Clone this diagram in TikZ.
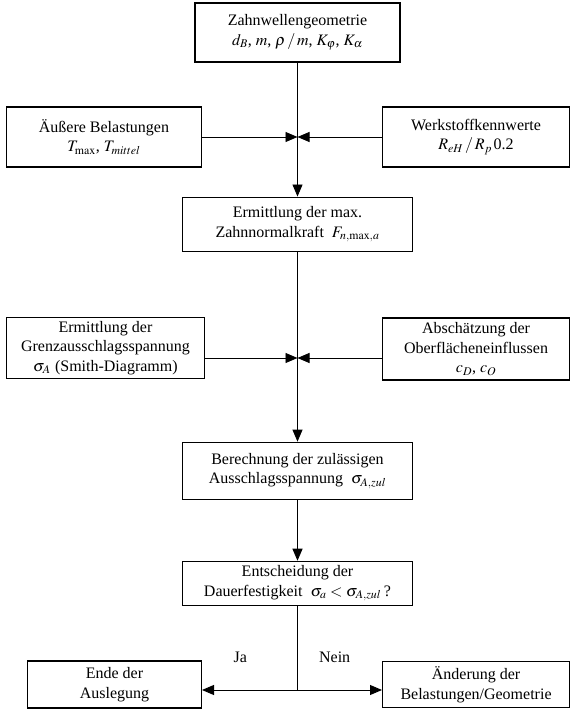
\documentclass[tikz,border=0pt]{standalone}
\usepackage{mathptmx}
\usepackage{fontspec}
\setmainfont{Liberation Serif}
\usetikzlibrary{arrows.meta, positioning}
\tikzset{
  mainbox/.style={rectangle, draw=black, line width=1.1pt,
    minimum width=230pt, text centered, align=center, inner sep=2pt},
  sidebox/.style={rectangle, draw=black, line width=1.1pt,
    minimum width=187pt, minimum height=60pt,
    text centered, align=center, inner sep=2pt},
  arr/.style={-{Triangle[length=12pt, width=10pt]}, line width=0.9pt, draw=black},
}

\begin{document}
\begin{tikzpicture}[x=1pt, y=1pt, font=\fontsize{16}{19.5}\selectfont]

\useasboundingbox (0,0) rectangle (570,709);

% Geometry on top
\node (geo) [mainbox, minimum width=205pt, minimum height=59pt] at (297.5,676.5)
  {Zahnwellengeometrie\\ $d_B$, $m$, $\rho\,/\,m$, $K_\varphi$, $K_\alpha$};

% First row of inputs
\coordinate (j1) at (297.5,572);

\node (load) [sidebox, minimum width=195pt, left=95.5pt of j1]
  {Äußere Belastungen\\ $T_{\mathrm{max}}$, $T_{mittel}$};

\node (mat) [sidebox, right=84.5pt of j1]
  {Werkstoffkennwerte\\ $R_{eH}\,/\,R_p\,$0.2};

% Normal force
\node (force) [mainbox, minimum height=54pt, below=134pt of geo]
  {Ermittlung der max.\\ Zahnnormalkraft~ $F_{n,\mathrm{max},a}$};

% Second row of inputs
\coordinate (j2) at (297.5,351);

\node (limit) [sidebox, minimum width=198pt, minimum height=61pt,
  left=92.5pt of j2, yshift=10pt]
  {Ermittlung der\\ Grenzausschlagsspannung\\ $\sigma_A$\;(Smith-Diagramm)};

\node (surf) [sidebox, minimum height=62pt, right=84.5pt of j2, yshift=9pt]
  {Abschätzung der\\ Oberflächeneinflussen\\ $c_D$, $c_O$};

% Allowed stress
\node (calc) [mainbox, minimum height=57pt, below=190pt of force]
  {Berechnung der zulässigen\\ Ausschlagsspannung~ $\sigma_{A,zul}$};

% Decision
\node (dec) [mainbox, minimum height=44pt, below=61pt of calc]
  {Entscheidung der\\ Dauerfestigkeit~ $\sigma_a < \sigma_{A,zul}$\,?};

% Outcomes
\coordinate (j3) at (297.5,19);

\node (ende) [sidebox, minimum width=174pt, minimum height=47pt,
  left=95.5pt of j3, yshift=5.5pt]
  {Ende der\\ Auslegung};

\node (change) [sidebox, minimum height=46pt, right=84.5pt of j3, yshift=5.5pt]
  {Änderung der\\ Belastungen/Geometrie};

% Connectors
\draw[arr] (geo) -- (force);
\draw[arr] (load) -- (j1);
\draw[arr] (mat) -- (j1);
\draw[arr] (force) -- (calc);
\draw[arr] (limit.east |- j2) -- (j2);
\draw[arr] (surf.west |- j2) -- (j2);
\draw[arr] (calc) -- (dec);
\draw[line width=0.9pt] (dec) -- (j3);
\draw[arr] (j3) -- node[pos=0.6, yshift=33pt]{Ja} (ende.east |- j3);
\draw[arr] (j3) -- node[pos=0.44, yshift=33pt]{Nein} (change.west |- j3);

\end{tikzpicture}
\end{document}
